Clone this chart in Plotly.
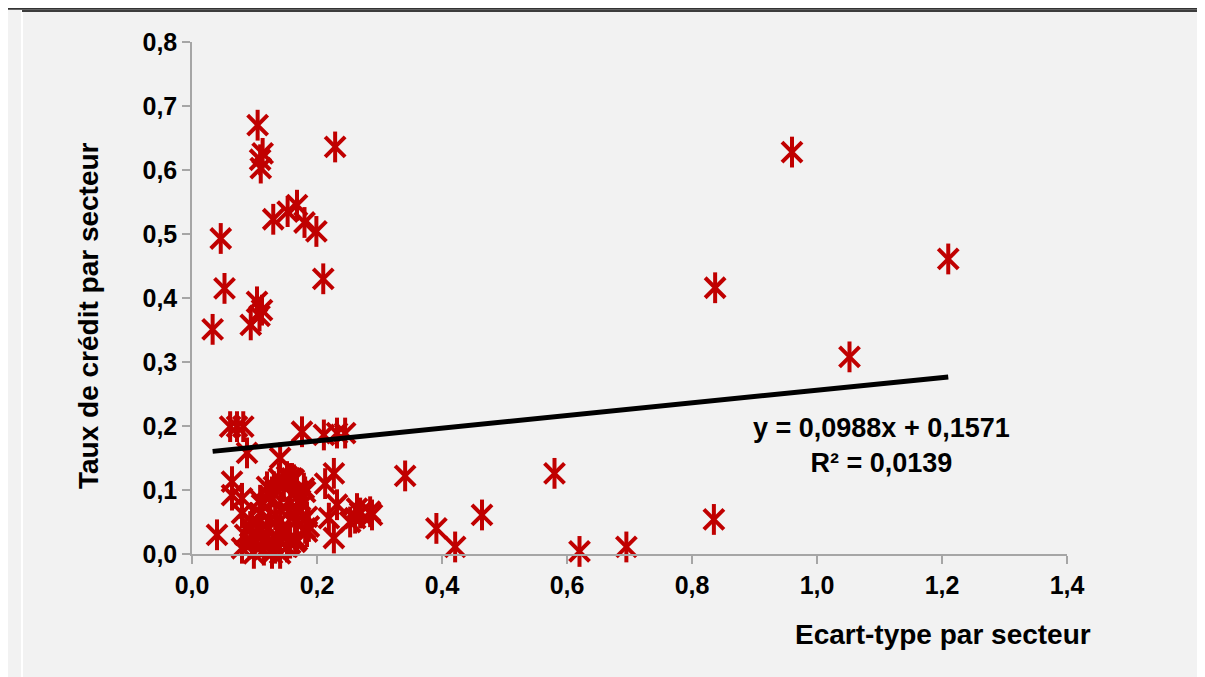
import plotly.graph_objects as go

# ---- data ----
ecart_type = [
    0.105, 0.229, 0.113, 0.109, 0.110, 0.168, 0.153, 0.130, 0.180, 0.199, 0.046, 0.210,
    0.052, 0.104, 0.112, 0.108, 0.094, 0.033,
    0.960, 1.210, 0.837, 1.052, 0.835, 0.580, 0.341, 0.464, 0.391, 0.421, 0.620, 0.695,
    0.061, 0.072, 0.082, 0.088, 0.141, 0.176, 0.211, 0.232, 0.245,
    0.064, 0.064, 0.080, 0.080, 0.040, 0.139, 0.160, 0.128, 0.112, 0.096, 0.085, 0.080,
    0.099, 0.128, 0.133, 0.112, 0.144, 0.123, 0.165, 0.181, 0.176, 0.155, 0.133, 0.181,
    0.165, 0.227, 0.232, 0.264, 0.285, 0.253, 0.227, 0.219, 0.179, 0.184, 0.157, 0.141,
    0.168, 0.163, 0.147, 0.131, 0.213, 0.269, 0.288, 0.261, 0.187, 0.168, 0.157, 0.141,
    0.120, 0.104, 0.093, 0.109, 0.125, 0.141, 0.157, 0.173, 0.168, 0.152, 0.120, 0.125,
    0.109, 0.096, 0.115, 0.152, 0.136, 0.184,
]
taux_credit = [
    0.670, 0.636, 0.626, 0.616, 0.603, 0.545, 0.535, 0.523, 0.518, 0.504, 0.493, 0.430,
    0.415, 0.394, 0.381, 0.372, 0.358, 0.351,
    0.628, 0.461, 0.416, 0.308, 0.054, 0.126, 0.122, 0.061, 0.040, 0.011, 0.004, 0.011,
    0.199, 0.199, 0.199, 0.158, 0.150, 0.191, 0.186, 0.189, 0.189,
    0.113, 0.092, 0.087, 0.064, 0.030, 0.118, 0.118, 0.097, 0.077, 0.050, 0.030, 0.009,
    0.001, 0.001, 0.009, 0.019, 0.035, 0.040, 0.050, 0.040, 0.077, 0.066, 0.061, 0.097,
    0.019, 0.126, 0.077, 0.071, 0.066, 0.050, 0.025, 0.056, 0.103, 0.035, 0.118, 0.001,
    0.071, 0.116, 0.105, 0.105, 0.110, 0.064, 0.061, 0.056, 0.043, 0.022, 0.017, 0.038,
    0.038, 0.032, 0.043, 0.064, 0.053, 0.069, 0.079, 0.084, 0.100, 0.121, 0.105, 0.090,
    0.084, 0.017, 0.006, 0.011, 0.027, 0.058,
]
slope = 0.0988
intercept = 0.1571
r2 = 0.0139
x_ticks = [0.0, 0.2, 0.4, 0.6, 0.8, 1.0, 1.2, 1.4]
y_ticks = [0.0, 0.1, 0.2, 0.3, 0.4, 0.5, 0.6, 0.7, 0.8]
x_title = "Ecart-type par secteur"
y_title = "Taux de crédit par secteur"

# ---- styling ----
OFF = 8                      # browser body margin
W, H = 1205 - OFF, 677 - OFF
ML, MT = 192 - OFF, 42 - OFF
PW, PH = 875, 512
MR, MB = W - ML - PW, H - MT - PH
RED = "#C00000"
FONT = "Liberation Sans, Arial, sans-serif"
AXIS_GREY = "#a6a6a6"
BG = "#f2f2f2"


def px_x(p):  # page pixel -> paper coordinate
    return (p - OFF - ML) / PW


def px_y(p):
    return 1 - (p - OFF - MT) / PH


fig = go.Figure()

# Excel-like star marker: X plus vertical bar
fig.add_trace(go.Scatter(
    x=ecart_type, y=taux_credit, mode="markers", cliponaxis=False,
    marker=dict(symbol="x-thin-open", size=20, color=RED, line=dict(color=RED, width=4)),
    showlegend=False, hoverinfo="x+y"))
fig.add_trace(go.Scatter(
    x=ecart_type, y=taux_credit, mode="markers", cliponaxis=False,
    marker=dict(symbol="line-ns-open", size=22, color=RED, line=dict(color=RED, width=4)),
    showlegend=False, hoverinfo="skip"))

# linear trend line over the data range
x0, x1 = min(ecart_type), max(ecart_type)
fig.add_trace(go.Scatter(
    x=[x0, x1], y=[slope * x0 + intercept, slope * x1 + intercept],
    mode="lines", line=dict(color="black", width=5), cliponaxis=False,
    showlegend=False, hoverinfo="skip"))

fmt = lambda v: f"{v:.4f}".replace(".", ",")
eq_text = f"y = {fmt(slope)}x + {fmt(intercept)}<br>R² = {fmt(r2)}"

annotations = [
    dict(text=eq_text, x=px_x(881), y=px_y(445), xref="paper", yref="paper",
         showarrow=False, align="center", xanchor="center", yanchor="middle",
         font=dict(family=FONT, size=27, color="black", weight="bold")),
    dict(text=x_title, x=px_x(1093), y=px_y(634), xref="paper", yref="paper",
         showarrow=False, xanchor="right", yanchor="middle",
         font=dict(family=FONT, size=28, color="black", weight="bold")),
    dict(text=y_title, x=px_x(88), y=px_y(316), xref="paper", yref="paper",
         showarrow=False, textangle=-90, xanchor="center", yanchor="middle",
         font=dict(family=FONT, size=28, color="black", weight="bold")),
]

shapes = [
    # white vertical strip near the left edge
    dict(type="rect", xref="paper", yref="paper", x0=px_x(21), x1=px_x(23),
         y0=px_y(H + OFF + 5), y1=px_y(10), fillcolor="white", line=dict(width=0), layer="below"),
    # top rules
    dict(type="line", xref="paper", yref="paper", x0=px_x(6), x1=px_x(1203),
         y0=px_y(8.8), y1=px_y(8.8), line=dict(color="#333333", width=2)),
    dict(type="line", xref="paper", yref="paper", x0=px_x(22), x1=px_x(1200),
         y0=px_y(11), y1=px_y(11), line=dict(color="black", width=1.5)),
]

fig.update_layout(
    width=W, height=H,
    margin=dict(l=ML, r=MR, t=MT, b=MB, pad=0),
    paper_bgcolor=BG, plot_bgcolor=BG,
    separators=", ",
    font=dict(family=FONT, color="black"),
    annotations=annotations, shapes=shapes,
    xaxis=dict(range=[0, 1.4], tickvals=x_ticks, tickformat=".1f",
               showgrid=False, zeroline=False, showline=True, linecolor=AXIS_GREY,
               linewidth=1.5, ticks="outside", ticklen=8, tickcolor=AXIS_GREY,
               tickwidth=1.5, tickfont=dict(family=FONT, size=25, weight="bold"),
               fixedrange=True),
    yaxis=dict(range=[0, 0.8], tickvals=y_ticks, tickformat=".1f",
               showgrid=False, zeroline=False, showline=True, linecolor=AXIS_GREY,
               linewidth=1.5, ticks="outside", ticklen=8, tickcolor=AXIS_GREY,
               tickwidth=1.5, tickfont=dict(family=FONT, size=25, weight="bold"),
               fixedrange=True),
)

fig.write_html("out.html")
